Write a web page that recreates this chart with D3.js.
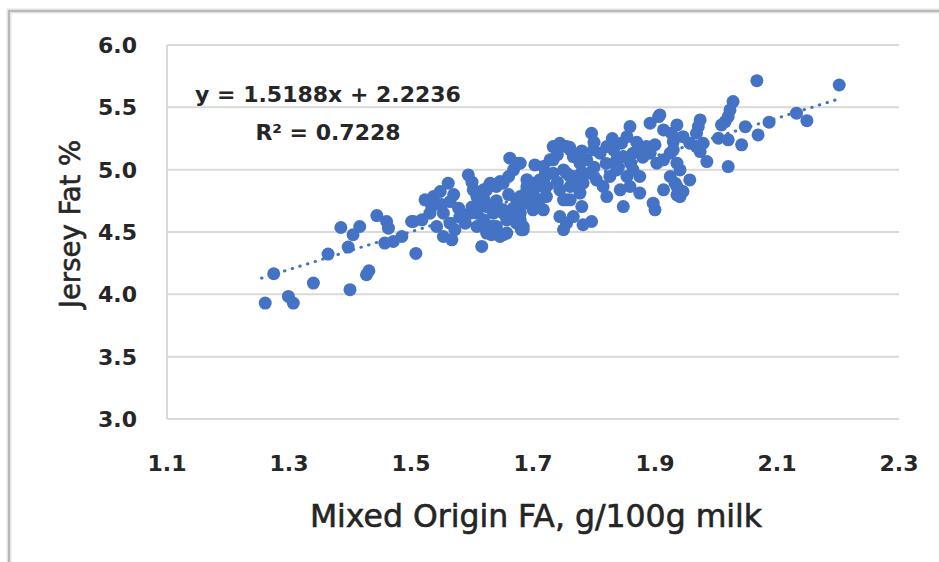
<!DOCTYPE html>
<html>
<head>
<meta charset="utf-8">
<script src="https://cdn.jsdelivr.net/npm/d3@7"></script>
<style>
  body { margin: 0; background: #fff; }
  svg { display: block; }
  text { font-family: "DejaVu Sans", sans-serif; fill: #262626; }
</style>
</head>
<body>
<svg id="chart" width="939" height="562"></svg>
<script>
// Mixed Origin FA (g/100g milk) values
const faValues = [
  1.261, 1.299, 1.307, 1.275, 1.340, 1.364, 1.385, 1.400, 1.397, 1.405, 1.416,
  1.427, 1.431, 1.444, 1.460, 1.463, 1.457, 1.471, 1.485, 1.501, 1.508,
  1.504, 1.518, 1.523, 1.537, 1.534, 1.561, 1.594, 1.548, 1.564, 1.578, 1.553,
  1.542, 1.564, 1.589, 1.553, 1.567, 1.572, 1.586, 1.531,
  1.608, 1.619, 1.627, 1.646, 1.660, 1.668, 1.662, 1.676, 1.703,
  1.616, 1.630, 1.624, 1.646, 1.657, 1.608, 1.613, 1.640, 1.651, 1.668, 1.673,
  1.662, 1.676, 1.684, 1.690, 1.700, 1.711, 1.720, 1.695, 1.711, 1.684, 1.700,
  1.722, 1.717,
  1.796, 1.906, 1.892, 1.859, 1.854, 1.845, 1.914, 1.927, 1.930, 1.744, 1.733,
  1.755, 1.728, 1.766, 1.777, 1.788, 1.799, 1.810, 1.821, 1.832, 1.837, 1.848,
  1.864, 1.875, 1.886,
  1.717, 1.733, 1.750, 1.766, 1.722, 1.744, 1.761, 1.782, 1.777, 1.755, 1.793,
  1.804, 1.815, 1.826, 1.837, 1.821, 1.843, 1.848, 1.780, 1.744, 1.755, 1.766,
  1.750, 1.782, 1.796, 1.854, 1.864, 1.875, 1.859, 1.875, 1.897, 1.900, 1.914,
  1.925, 1.933, 1.936, 1.892, 1.903, 1.914, 1.925,
  2.067, 2.202, 2.028, 2.023, 2.020, 2.015, 2.009, 2.048, 2.087, 2.132, 2.149,
  2.069, 2.042, 2.004, 2.020, 2.020, 1.974, 1.971, 1.936, 1.946, 1.957, 1.968,
  1.979, 1.974, 1.985, 1.930, 1.936, 1.941, 1.957, 1.936, 1.946, 1.941,
  1.651, 1.632, 1.681, 1.679, 1.733, 1.744, 1.761, 1.777,
  1.602, 1.597, 1.624, 1.640, 1.651, 1.679, 1.690, 1.706, 1.755, 1.766, 1.761,
  1.750, 1.706, 1.690, 1.679, 1.668, 1.651, 1.635, 1.619, 1.608, 1.624, 1.640,
  1.657, 1.673, 1.684, 1.679, 1.630, 1.624, 1.635, 1.968, 1.908,
  1.580, 1.600, 1.620, 1.700, 1.720, 1.740, 1.760, 1.780, 1.800, 1.820, 1.840,
  1.860, 1.880, 1.900, 1.870, 1.830, 1.800, 1.780, 1.760, 1.740, 1.720, 1.690,
  1.660, 1.640, 1.600, 1.570, 1.550
];

// Jersey Fat % values, same order
const fatValues = [
  3.930, 3.983, 3.930, 4.165, 4.090, 4.323, 4.536, 4.037, 4.379, 4.478, 4.544,
  4.157, 4.189, 4.632, 4.584, 4.531, 4.411, 4.424, 4.464, 4.584, 4.328,
  4.584, 4.598, 4.758, 4.784, 4.704, 4.892, 4.958, 4.825, 4.744, 4.691, 4.651,
  4.544, 4.571, 4.571, 4.464, 4.437, 4.518, 4.638, 4.651,
  4.784, 4.838, 4.865, 4.905, 4.945, 4.998, 5.092, 5.052, 5.038,
  4.384, 4.544, 4.518, 4.464, 4.491, 4.651, 4.704, 4.718, 4.651, 4.691, 4.758,
  4.611, 4.598, 4.544, 4.865, 4.892, 4.918, 4.945, 4.784, 4.758, 4.731, 4.678,
  4.784, 4.678,
  5.292, 5.426, 5.373, 5.346, 5.265, 5.212, 5.319, 5.292, 5.225, 5.212, 5.185,
  5.185, 5.079, 5.105, 5.052, 5.079, 5.159, 5.132, 5.185, 5.159, 5.079, 5.105,
  5.132, 5.159, 5.185,
  5.025, 4.972, 4.998, 4.945, 4.865, 4.838, 4.865, 4.892, 4.812, 4.758, 4.972,
  4.918, 4.865, 4.945, 4.998, 4.784, 4.838, 4.704, 4.704, 4.624, 4.571, 4.624,
  4.518, 4.558, 4.584, 4.945, 4.998, 4.945, 4.865, 4.812, 4.731, 4.678, 4.838,
  4.945, 4.892, 4.798, 5.132, 5.052, 5.079, 5.132,
  5.714, 5.679, 5.546, 5.479, 5.425, 5.385, 5.359, 5.345, 5.381, 5.453, 5.393,
  5.279, 5.199, 5.252, 5.239, 5.025, 5.399, 5.345, 5.359, 5.265, 5.212, 5.185,
  5.212, 5.145, 5.065, 5.159, 5.052, 4.998, 4.918, 4.865, 4.825, 4.784,
  4.478, 4.478, 4.518, 5.052, 5.079, 5.185, 5.159, 5.119,
  4.838, 4.651, 4.838, 4.865, 4.892, 4.784, 4.838, 4.865, 4.972, 4.892, 4.758,
  4.758, 4.758, 4.731, 4.651, 4.678, 4.678, 4.651, 4.598, 4.544, 4.491, 4.544,
  4.598, 4.571, 4.518, 4.598, 4.892, 4.704, 4.544, 5.292, 5.439,
  4.620, 4.700, 4.760, 4.820, 4.850, 4.900, 4.950, 4.980, 5.020, 5.050, 5.020,
  5.050, 5.100, 5.200, 5.220, 5.250, 5.220, 5.150, 5.180, 5.120, 4.960, 4.920,
  4.800, 4.750, 4.900, 4.800, 4.720
];

const xTicks = [1.1, 1.3, 1.5, 1.7, 1.9, 2.1, 2.3];
const yTicks = [3.0, 3.5, 4.0, 4.5, 5.0, 5.5, 6.0];

// linear trendline shown on the chart
const trendSlope = 1.5188;
const trendIntercept = 2.2236;
const trendRange = [1.255, 2.2];
const equationLines = ["y = 1.5188x + 2.2236", "R\u00b2 = 0.7228"];

const svg = d3.select("#chart");
const plot = { left: 167, right: 899, top: 45, bottom: 419 };

const x = d3.scaleLinear().domain([1.1, 2.3]).range([plot.left, plot.right]);
const y = d3.scaleLinear().domain([3.0, 6.0]).range([plot.bottom, plot.top]);

// outer frame (only top and left edges visible in the crop)
svg.append("path")
  .attr("d", "M9,562 V11 H939")
  .attr("fill", "none")
  .attr("stroke", "#e4e4e4")
  .attr("stroke-width", 5);
svg.append("path")
  .attr("d", "M9,562 V11 H939")
  .attr("fill", "none")
  .attr("stroke", "#b8b8b8")
  .attr("stroke-width", 2);

// gridlines
svg.append("g")
  .selectAll("line")
  .data(yTicks)
  .join("line")
  .attr("x1", plot.left)
  .attr("x2", plot.right)
  .attr("y1", d => y(d))
  .attr("y2", d => y(d))
  .attr("stroke", "#d9d9d9")
  .attr("stroke-width", 2);

// left axis line
svg.append("line")
  .attr("x1", plot.left).attr("x2", plot.left)
  .attr("y1", plot.top).attr("y2", plot.bottom)
  .attr("stroke", "#d9d9d9")
  .attr("stroke-width", 2);

// y tick labels
svg.append("g")
  .selectAll("text")
  .data(yTicks)
  .join("text")
  .attr("x", 137)
  .attr("y", d => y(d))
  .attr("dy", "0.36em")
  .attr("text-anchor", "end")
  .attr("font-size", 22)
  .attr("font-weight", "bold")
  .text(d => d3.format(".1f")(d));

// x tick labels
svg.append("g")
  .selectAll("text")
  .data(xTicks)
  .join("text")
  .attr("x", d => x(d))
  .attr("y", 471)
  .attr("text-anchor", "middle")
  .attr("font-size", 22)
  .attr("font-weight", "bold")
  .text(d => d3.format(".1f")(d));

// axis titles
svg.append("text")
  .attr("x", 536)
  .attr("y", 527)
  .attr("text-anchor", "middle")
  .attr("font-size", 31.5)
  .attr("fill", "#1f1f1f")
  .style("stroke", "#1f1f1f")
  .style("stroke-width", 0.6)
  .text("Mixed Origin FA, g/100g milk");

svg.append("text")
  .attr("transform", "translate(80,224) rotate(-90)")
  .attr("text-anchor", "middle")
  .attr("font-size", 27.5)
  .style("stroke", "#262626")
  .style("stroke-width", 0.6)
  .text("Jersey Fat %");

// points
const points = faValues.map((v, i) => ({ fa: v, fat: fatValues[i] }));
svg.append("g")
  .selectAll("circle")
  .data(points)
  .join("circle")
  .attr("cx", d => x(d.fa))
  .attr("cy", d => y(d.fat))
  .attr("r", 6.5)
  .attr("fill", "#4472c4");

// dotted trendline
svg.append("line")
  .attr("x1", x(trendRange[0]))
  .attr("y1", y(trendSlope * trendRange[0] + trendIntercept))
  .attr("x2", x(trendRange[1]))
  .attr("y2", y(trendSlope * trendRange[1] + trendIntercept))
  .attr("stroke", "#4472c4")
  .attr("stroke-width", 3)
  .attr("stroke-linecap", "round")
  .attr("stroke-dasharray", "0.5,7.5");

// equation label
svg.append("g")
  .selectAll("text")
  .data(equationLines)
  .join("text")
  .attr("x", 328)
  .attr("y", (d, i) => 102 + i * 38)
  .attr("text-anchor", "middle")
  .attr("font-size", 22)
  .attr("font-weight", "bold")
  .text(d => d);
</script>
</body>
</html>
